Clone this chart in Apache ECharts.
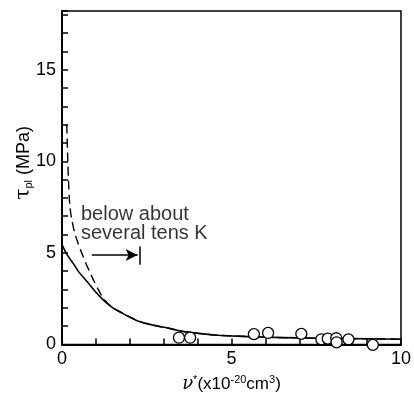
<!DOCTYPE html>
<html><head><meta charset="utf-8">
<script src="https://cdn.jsdelivr.net/npm/echarts@6/dist/echarts.min.js"></script>
<style>html,body{margin:0;padding:0;background:#fff}#c{width:414px;height:398px}</style>
</head><body><div id="c"></div>
<script>
// Data
const solidCurve = [[0,5.45],[0.15,4.9],[0.34,4.4],[0.5,3.95],[0.73,3.45],[1.0,2.85],[1.21,2.45],[1.5,2.0],[1.79,1.7],[2.0,1.5],[2.29,1.25],[2.7,1.05],[3.17,0.88],[3.5,0.74],[3.96,0.62],[4.5,0.52],[5,0.47],[6,0.4],[7,0.36],[8,0.33],[9,0.31],[10,0.29]];
const dashedCurve = [[0.14,12.0],[0.16,10.7],[0.19,9.0],[0.23,7.6],[0.28,6.9],[0.38,6.05],[0.48,5.5],[0.58,5.0],[0.7,4.45],[0.82,3.95],[0.96,3.4],[1.11,2.86],[1.26,2.42],[1.5,2.0],[1.79,1.7],[2.0,1.5],[2.29,1.25],[2.7,1.05],[3.17,0.88],[3.5,0.74],[3.96,0.62],[4.5,0.52],[5,0.47],[6,0.4],[7,0.36],[8,0.33],[9,0.31],[10,0.29]];
const measured = [[3.45,0.37],[3.78,0.37],[5.66,0.57],[6.08,0.63],[7.06,0.58],[7.65,0.28],[7.84,0.32],[8.09,0.34],[8.1,0.12],[8.45,0.28],[9.17,-0.02]];
const xLabels = [0,5,10];
const yLabels = [0,5,10,15];
const noteLines = ['below about','several tens K'];
const notePos = [[0.56,7.1],[0.56,6.05]];
const arrowFrom = [0.88,4.88], arrowTo = [2.23,4.88];
const barX = 2.29, barY = [4.35,5.35];

const FONT = 'Liberation Sans';
const chart = echarts.init(document.getElementById('c'));
chart.setOption({
  animation:false,
  backgroundColor:'#fff',
  grid:{left:62,right:11,top:11,bottom:48,show:true,borderColor:'#000',borderWidth:1.5},
  xAxis:{type:'value',min:0,max:10,interval:1,
    axisLine:{lineStyle:{color:'#000',width:2}},
    axisTick:{inside:true,length:6,lineStyle:{color:'#000',width:1.5}},
    splitLine:{show:false},
    axisLabel:{color:'#000',fontFamily:FONT,fontSize:18,margin:6,
      formatter:v=>xLabels.includes(v)?String(v):''},
    name:'{i|ν}{s|*}{n|(x10}{s|-20}{n|cm}{s|3}{n|)}',nameLocation:'middle',nameGap:30,
    nameTextStyle:{rich:{
      i:{fontFamily:'DejaVu Serif',fontStyle:'italic',fontSize:18,color:'#000'},
      n:{fontFamily:FONT,fontSize:17,color:'#000'},
      s:{fontFamily:FONT,fontSize:11,color:'#000',verticalAlign:'top',padding:[0,0,8,0]}}}
  },
  yAxis:{type:'value',min:0,max:18.2,interval:1,
    axisLine:{lineStyle:{color:'#000',width:2}},
    axisTick:{inside:true,length:6,lineStyle:{color:'#000',width:1.5}},
    splitLine:{show:false},
    axisLabel:{color:'#000',fontFamily:FONT,fontSize:18,margin:6,
      formatter:v=>yLabels.includes(v)?String(v):''},
    name:'{t|τ}{p|pl}{n| (MPa)}',nameLocation:'middle',nameRotate:90,nameGap:28,
    nameMoveOverlap:false,
    nameTextStyle:{padding:[0,0,0,30],rich:{
      t:{fontFamily:'DejaVu Serif',fontSize:20,color:'#000'},
      p:{fontFamily:FONT,fontSize:11,color:'#000',verticalAlign:'bottom',padding:[8,0,0,0]},
      n:{fontFamily:FONT,fontSize:18,color:'#000'}}}
  },
  series:[
    {type:'line',data:solidCurve,smooth:0.3,showSymbol:false,symbol:'none',
      lineStyle:{color:'#000',width:1.6},z:3},
    {type:'line',data:dashedCurve,smooth:0.3,showSymbol:false,symbol:'none',
      lineStyle:{color:'#000',width:1.4,type:[9,5]},z:3},
    {type:'scatter',data:measured,symbol:'circle',symbolSize:11,clip:false,
      itemStyle:{color:'#fff',borderColor:'#000',borderWidth:1.3,opacity:1},z:5},
    {type:'scatter',data:notePos.map((p,i)=>({value:p,name:noteLines[i]})),symbolSize:0,silent:true,
      label:{show:true,position:'right',distance:0,formatter:p=>p.name,color:'#000',fontFamily:FONT,fontSize:20},
      markLine:{silent:true,animation:false,label:{show:false},lineStyle:{color:'#000',width:1.5,type:'solid'},
        data:[
          [{coord:arrowFrom,symbol:'none'},{coord:arrowTo,symbol:'arrow',symbolSize:[9,12]}],
          [{coord:[barX,barY[0]],symbol:'none'},{coord:[barX,barY[1]],symbol:'none'}]
        ]}}
  ]
});
</script></body></html>
